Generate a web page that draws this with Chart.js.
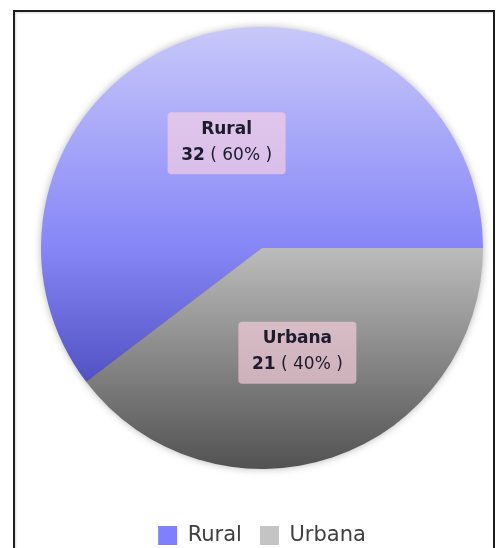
<!DOCTYPE html>
<html>
<head>
<meta charset="utf-8">
<script src="https://cdn.jsdelivr.net/npm/chart.js@4.4.0/dist/chart.umd.min.js"></script>
<style>
  html, body { margin: 0; padding: 0; background: #fff; overflow: hidden; width: 504px; height: 548px; }
  #frame { position: absolute; left: 13px; top: 10px; width: 478px; height: 600px; border: 2px solid #1e1e1e; border-bottom: none; box-shadow: inset 1px 1px 2px rgba(0,0,0,0.15); }
  #wrap { position: absolute; left: 0; top: -20px; width: 504px; height: 576px; }
</style>
</head>
<body>
<div id="frame"></div>
<div id="wrap"><canvas id="pieChart"></canvas></div>
<script>
const categories = ['Rural', 'Urbana'];
const counts = [32, 21];

// slice shading, top to bottom of the pie
const shades = [
    [[0, 'rgb(200,200,250)'], [0.5, 'rgb(134,134,247)'], [0.8, 'rgb(82,82,196)'], [1, 'rgb(60,60,170)']],
    [[0, 'rgb(230,230,230)'], [0.5, 'rgb(188,188,188)'], [1, 'rgb(82,82,82)']]
];
const legendColors = ['#8080ff', '#c4c4c4'];

const total = counts.reduce((a, b) => a + b, 0);
// first slice ends at 3 o'clock
const startDeg = 90 - 360 * counts[0] / total;

function sliceFill(context) {
    const stops = shades[context.dataIndex];
    const area = context.chart.chartArea;
    if (!area) return stops[1][1];
    const cy = (area.top + area.bottom) / 2;
    const r = Math.min(area.right - area.left, area.bottom - area.top) / 2;
    const g = context.chart.ctx.createLinearGradient(0, cy - r, 0, cy + r);
    stops.forEach(s => g.addColorStop(s[0], s[1]));
    return g;
}

const pieShadow = {
    id: 'pieShadow',
    beforeDatasetsDraw(chart) {
        const arc = chart.getDatasetMeta(0).data[0];
        if (!arc) return;
        const ctx = chart.ctx;
        ctx.save();
        ctx.shadowColor = 'rgba(0,0,0,0.35)';
        ctx.shadowBlur = 8;
        ctx.fillStyle = '#888';
        ctx.beginPath();
        ctx.arc(arc.x, arc.y, arc.outerRadius - 1, 0, Math.PI * 2);
        ctx.fill();
        ctx.restore();
    }
};

const sliceLabels = {
    id: 'sliceLabels',
    afterDatasetsDraw(chart) {
        const ctx = chart.ctx;
        const bold = 'bold 17px "DejaVu Sans"';
        const normal = '17px "DejaVu Sans"';
        chart.getDatasetMeta(0).data.forEach((arc, i) => {
            const p = arc.getCenterPoint();
            const w = 118, h = 62;
            ctx.save();
            ctx.fillStyle = 'rgba(255,212,226,0.62)';
            ctx.beginPath();
            ctx.roundRect(p.x - w / 2, p.y - h / 2, w, h, 4);
            ctx.fill();

            ctx.fillStyle = '#1c1c2c';
            ctx.textBaseline = 'middle';
            ctx.textAlign = 'center';
            ctx.font = bold;
            ctx.fillText(categories[i], p.x, p.y - 14);

            const num = String(counts[i]);
            const pct = ' ( ' + Math.round(counts[i] / total * 100) + '% )';
            const w1 = ctx.measureText(num).width;
            ctx.font = normal;
            const w2 = ctx.measureText(pct).width;
            const x = p.x - (w1 + w2) / 2;
            ctx.textAlign = 'left';
            ctx.font = bold;
            ctx.fillText(num, x, p.y + 12);
            ctx.font = normal;
            ctx.fillText(pct, x + w1, p.y + 12);
            ctx.restore();
        });
    }
};

const ctx = document.getElementById('pieChart').getContext('2d');
const pieChart = new Chart(ctx, {
    type: 'pie',
    data: {
        labels: categories,
        datasets: [{
            data: counts,
            backgroundColor: sliceFill,
            borderWidth: 0,
            hoverOffset: 0
        }]
    },
    options: {
        responsive: true,
        maintainAspectRatio: false,
        animation: false,
        rotation: startDeg,
        layout: {
            padding: { top: 9, left: 41, right: 21, bottom: 0 }
        },
        plugins: {
            tooltip: { enabled: false },
            legend: {
                position: 'bottom',
                labels: {
                    boxWidth: 19,
                    boxHeight: 19,
                    padding: 18,
                    color: '#404040',
                    font: { family: '"DejaVu Sans"', size: 21 },
                    generateLabels(chart) {
                        const items = Chart.overrides.doughnut.plugins.legend.labels.generateLabels(chart);
                        items.forEach((it, i) => {
                            it.fillStyle = legendColors[i];
                            it.strokeStyle = legendColors[i];
                            it.lineWidth = 0;
                        });
                        return items;
                    }
                }
            }
        }
    },
    plugins: [pieShadow, sliceLabels]
});
</script>
</body>
</html>
